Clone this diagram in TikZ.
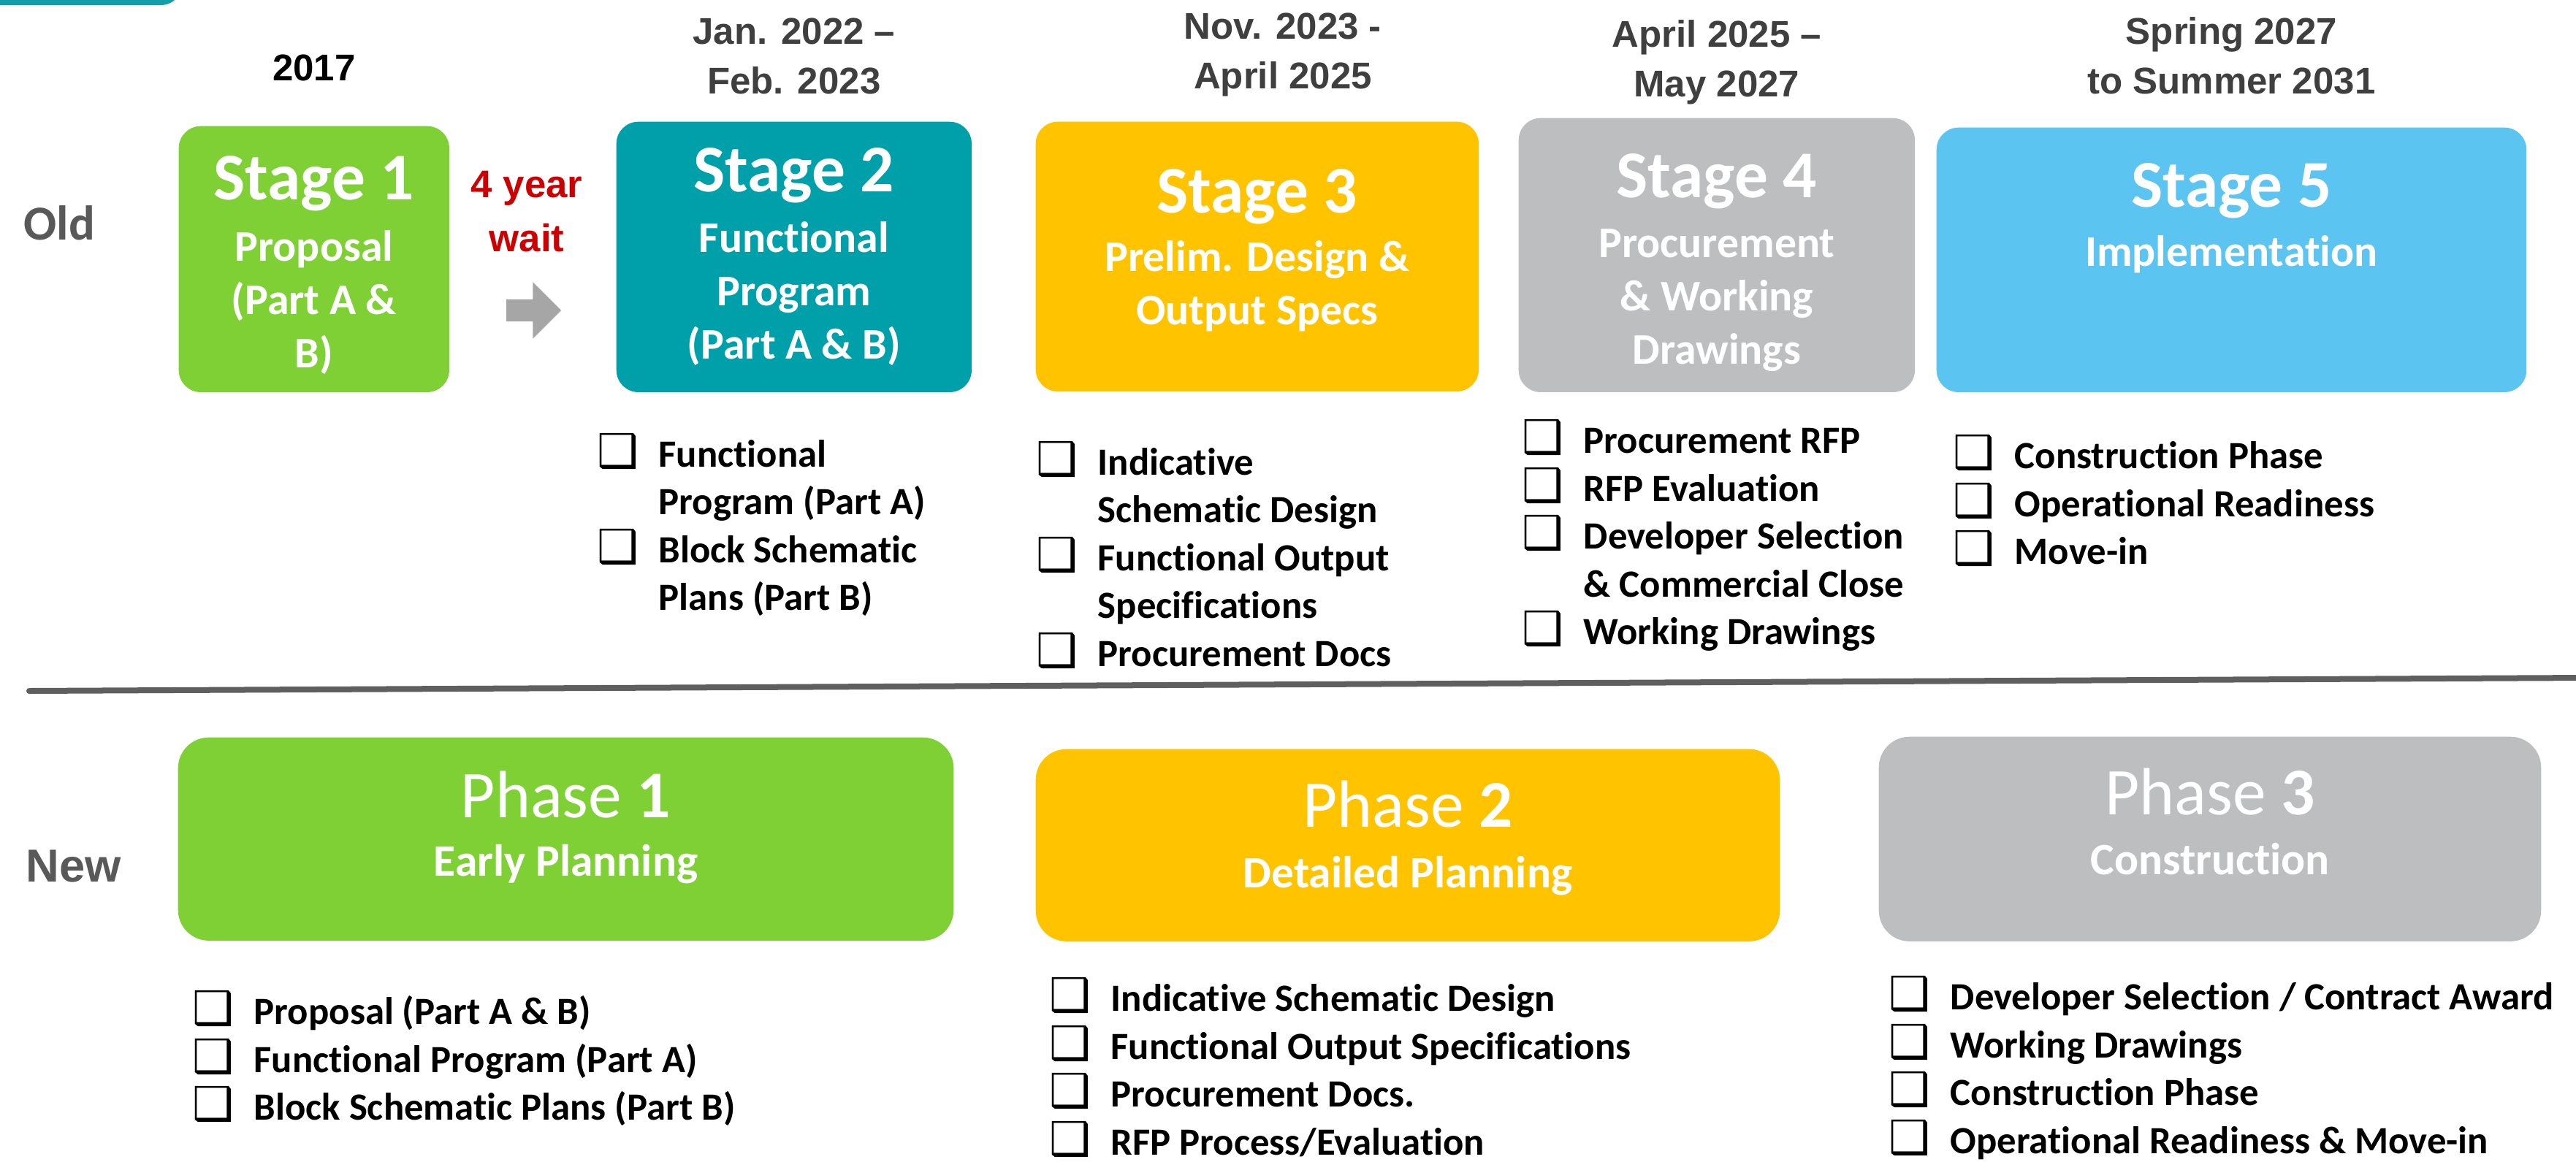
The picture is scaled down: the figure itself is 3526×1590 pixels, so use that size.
\documentclass[tikz,border=0pt]{standalone}
\usepackage{fontspec}
\setmainfont{Carlito}[Ligatures=NoCommon]
\newfontfamily\arialf{Liberation Sans}
\newfontfamily\symf{DejaVu Sans}
\usetikzlibrary{positioning, calc, shapes.arrows}

\definecolor{stgreen}{HTML}{7ED035}
\definecolor{stteal}{HTML}{00A0AA}
\definecolor{styellow}{HTML}{FFC300}
\definecolor{stgray}{HTML}{BDBEC0}
\definecolor{stblue}{HTML}{5BC4F1}
\definecolor{waitred}{HTML}{CC0000}
\definecolor{datetxt}{HTML}{3F3F3F}
\definecolor{rowtxt}{HTML}{595959}
\definecolor{arrgray}{HTML}{A6A6A6}
\definecolor{linegray}{HTML}{5F5F5F}
\definecolor{tabteal}{HTML}{149EA9}

\newcommand{\stk}[1]{\begin{tabular}[t]{@{}c@{}}#1\end{tabular}}
\newcommand{\cb}{\makebox[0.84cm][l]{\symf\fontsize{18}{18}\selectfont ❑}}
\newcommand{\chk}[1]{\begin{tabular}[t]{@{}l@{}l@{}}#1\end{tabular}}

\begin{document}
\begin{tikzpicture}[x=0.01cm, y=-0.01cm,
  stagebox/.style={rounded corners=0.3cm, inner sep=0pt, anchor=north west},
  phasebox/.style={rounded corners=0.42cm, inner sep=0pt, anchor=north west},
  ttl/.style={anchor=base, inner sep=0pt, text=white, font=\fontsize{26}{31}\selectfont\bfseries},
  sub/.style={anchor=base, inner sep=0pt, text=white, font=\fontsize{17}{20.8}\selectfont\bfseries},
  phttl/.style={anchor=base, inner sep=0pt, text=white, font=\fontsize{26}{31}\selectfont},
  phsub/.style={anchor=base, inner sep=0pt, text=white, font=\fontsize{17.5}{21}\selectfont\bfseries},
  date/.style={anchor=base, inner sep=0pt, text=datetxt, font=\arialf\fontsize{14.5}{19.3}\selectfont\bfseries},
  todo/.style={anchor=base west, inner sep=0pt, font=\fontsize{15}{18.5}\selectfont\bfseries},
  rowlbl/.style={anchor=base west, inner sep=0pt, text=rowtxt, font=\fontsize{19}{23}\selectfont\bfseries},
  garrow/.style={single arrow, fill=arrgray, inner xsep=0pt, inner ysep=0.145cm, minimum height=0.75cm, single arrow head extend=0.235cm}]

\useasboundingbox (0,0) rectangle (3526,1590);

% corner tab
\fill[tabteal, rounded corners=0.3cm] (-60,-60) rectangle (250,7);

% row labels
\node[rowlbl] (old) at (32,328) {Old};
\node[rowlbl, font=\arialf\fontsize{18}{22}\selectfont\bfseries] (new) at (35,1207) {New};

% old stages
\node[stagebox, fill=stgreen, minimum width=3.70cm, minimum height=3.64cm] (S1) at (244,172) {};
\node[stagebox, fill=stteal, minimum width=4.86cm, minimum height=3.70cm] (S2) at (843,166) {};
\node[stagebox, fill=styellow, minimum width=6.06cm, minimum height=3.69cm] (S3) at (1417,166) {};
\node[stagebox, fill=stgray, minimum width=5.42cm, minimum height=3.75cm] (S4) at (2078,161) {};
\node[stagebox, fill=stblue, minimum width=8.07cm, minimum height=3.62cm] (S5) at (2650,174) {};

\node[ttl] (S1a) at ([yshift=-1.01cm]S1.north) {Stage 1};
\node[sub] (S1b) at ([yshift=-1.85cm]S1.north) {\stk{Proposal\\(Part A \&\\B)}};
\node[ttl] (S2a) at ([yshift=-0.96cm]S2.north) {Stage 2};
\node[sub] (S2b) at ([yshift=-1.79cm]S2.north) {\stk{Functional\\Program\\(Part A \& B)}};
\node[ttl] (S3a) at ([yshift=-1.25cm]S3.north) {Stage 3};
\node[sub] (S3b) at ([yshift=-2.05cm]S3.north) {\stk{Prelim. Design \&\\Output Specs}};
\node[ttl] (S4a) at ([yshift=-1.09cm]S4.north) {Stage 4};
\node[sub] (S4b) at ([yshift=-1.91cm]S4.north) {\stk{Procurement\\\& Working\\Drawings}};
\node[ttl] (S5a) at ([yshift=-1.09cm]S5.north) {Stage 5};
\node[sub] (S5b) at ([yshift=-1.90cm]S5.north) {Implementation};

% dates
\node[date, text=black] (D1) at ([yshift=0.61cm]S1.north) {2017};
\node[date] (D2) at ([yshift=1.05cm]S2.north) {\stk{Jan. 2022 –\\Feb. 2023}};
\node[date] (D3) at ([xshift=0.35cm, yshift=1.12cm]S3.north) {\stk{Nov. 2023 -\\April 2025}};
\node[date] (D4) at ([yshift=0.96cm]S4.north) {\stk{April 2025 –\\May 2027}};
\node[date] (D5) at ([yshift=1.13cm]S5.north) {\stk{Spring 2027\\to Summer 2031}};

% gap between stage 1 and 2
\node[anchor=base, inner sep=0pt, text=waitred, font=\arialf\fontsize{15}{21.3}\selectfont\bfseries] (wait) at (721,270) {\stk{4 year\\wait}};
\node[garrow] (gap) at (723,425) {};

% stage deliverables
\node[todo] (L2) at ([xshift=-0.26cm, yshift=-1.02cm]S2.south west) {\chk{\cb & Functional\\ & Program (Part A)\\ \cb & Block Schematic\\ & Plans (Part B)}};
\node[todo] (L3) at ([xshift=0.01cm, yshift=-1.14cm]S3.south west) {\chk{\cb & Indicative\\ & Schematic Design\\ \cb & Functional Output\\ & Specifications\\ \cb & Procurement Docs}};
\node[todo] (L4) at ([xshift=0.05cm, yshift=-0.83cm]S4.south west) {\chk{\cb & Procurement RFP\\ \cb & RFP Evaluation\\ \cb & Developer Selection\\ & \& Commercial Close\\ \cb & Working Drawings}};
\node[todo] (L5) at ([xshift=0.23cm, yshift=-1.04cm]S5.south west) {\chk{\cb & Construction Phase\\ \cb & Operational Readiness\\ \cb & Move-in}};

% divider
\coordinate (R0) at (40,946);
\coordinate (R1) at (3540,928);
\draw[linegray, line width=0.08cm, line cap=round] (R0) -- (R1);

% new phases
\node[phasebox, fill=stgreen, minimum width=10.61cm, minimum height=2.78cm] (P1) at (243,1009) {};
\node[phasebox, fill=styellow, minimum width=10.18cm, minimum height=2.63cm] (P2) at (1417,1025) {};
\node[phasebox, fill=stgray, minimum width=9.06cm, minimum height=2.80cm] (P3) at (2571,1008) {};

\node[phttl] (P1a) at ([yshift=-1.10cm]P1.north) {Phase \textbf{1}};
\node[phsub] (P1b) at ([yshift=-1.90cm]P1.north) {Early Planning};
\node[phttl] (P2a) at ([yshift=-1.07cm]P2.north) {Phase \textbf{2}};
\node[phsub] (P2b) at ([yshift=-1.90cm]P2.north) {Detailed Planning};
\node[phttl] (P3a) at ([yshift=-1.07cm]P3.north) {Phase \textbf{3}};
\node[phsub] (P3b) at ([yshift=-1.89cm]P3.north) {Construction};

% phase deliverables
\node[todo] (Q1) at ([xshift=0.20cm, yshift=-1.14cm]P1.south west) {\chk{\cb & Proposal (Part A \& B)\\ \cb & Functional Program (Part A)\\ \cb & Block Schematic Plans (Part B)}};
\node[todo] (Q2) at ([xshift=0.19cm, yshift=-0.95cm]P2.south west) {\chk{\cb & Indicative Schematic Design\\ \cb & Functional Output Specifications\\ \cb & Procurement Docs.\\ \cb & RFP Process/Evaluation}};
\node[todo] (Q3) at ([xshift=0.14cm, yshift=-0.93cm]P3.south west) {\chk{\cb & Developer Selection / Contract Award\\ \cb & Working Drawings\\ \cb & Construction Phase\\ \cb & Operational Readiness \& Move-in}};
\end{tikzpicture}
\end{document}
